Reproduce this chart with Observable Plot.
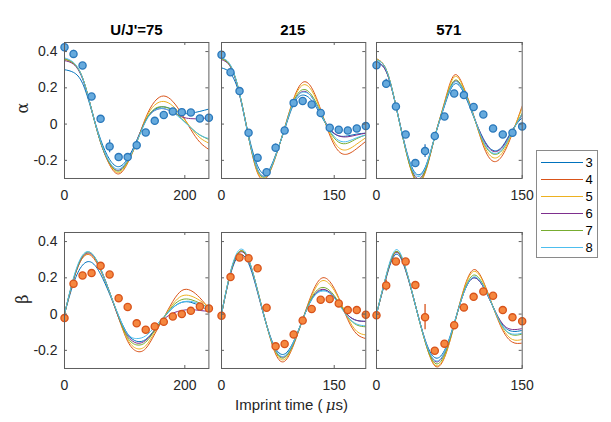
<!DOCTYPE html>
<html>
<head>
<meta charset="utf-8">
<script src="https://cdn.jsdelivr.net/npm/d3@7"></script>
<script src="https://cdn.jsdelivr.net/npm/@observablehq/plot@0.6"></script>
<style>
  html, body { margin: 0; padding: 0; background: #fff; }
  #fig { position: relative; width: 611px; height: 422px; overflow: hidden; background: #fff;
         font-family: "Liberation Sans", Arial, Helvetica, sans-serif; }
</style>
</head>
<body>
<div id="fig"></div>
<script>
// ---------- data ----------
const models = ["3", "4", "5", "6", "7", "8"];
const modelColors = ["#0072BD", "#D95319", "#EDB120", "#7E2F8E", "#77AC30", "#4DBEEE"];
const yTicks = [-0.2, 0, 0.2, 0.4];
const xTicks75 = [0, 200];
const xTicks215 = [0, 150];
const xTicks571 = [0, 150];
const titles = ["U/J'=75", "215", "571"];

const t75 = [0, 15, 30, 45, 60, 75, 90, 105, 120, 135, 150, 165, 180, 195, 210, 225, 240];
const t215 = [0, 12, 24, 36, 48, 60, 72, 84, 96, 108, 120, 132, 144, 156, 168, 180, 192];
const t571 = [0, 10, 20, 30, 40, 50, 60, 70, 80, 90, 100, 110, 120, 130, 140, 150];

// measured points
const alpha75 = [0.424, 0.387, 0.323, 0.152, 0.029, -0.123, -0.182, -0.182, -0.117, -0.046, 0.018, 0.05, 0.07, 0.066, 0.064, 0.031, 0.035];
const alpha75Err = [0.01, 0.02, 0.01, 0.01, 0.01, 0.035, 0.01, 0.01, 0.025, 0.01, 0.01, 0.01, 0.01, 0.01, 0.01, 0.01, 0.01];
const alpha215 = [0.383, 0.286, 0.182, -0.048, -0.185, -0.266, -0.13, -0.035, 0.117, 0.127, 0.108, 0.061, -0.02, -0.031, -0.035, -0.024, -0.011];
const alpha215Err = [0.01, 0.01, 0.01, 0.01, 0.01, 0.01, 0.02, 0.01, 0.01, 0.01, 0.01, 0.01, 0.01, 0.01, 0.01, 0.01, 0.01];
const alpha571 = [0.325, 0.222, 0.097, -0.057, -0.215, -0.149, -0.066, 0.042, 0.169, 0.16, 0.094, 0.053, -0.024, -0.057, -0.048, -0.013];
const alpha571Err = [0.01, 0.025, 0.01, 0.01, 0.01, 0.035, 0.01, 0.015, 0.01, 0.01, 0.01, 0.01, 0.01, 0.01, 0.01, 0.01];
const beta75 = [-0.022, 0.167, 0.213, 0.226, 0.266, 0.218, 0.088, 0.039, -0.051, -0.086, -0.068, -0.042, -0.013, 0.0, 0.018, 0.042, 0.031];
const beta75Err = [0.01, 0.01, 0.01, 0.01, 0.01, 0.01, 0.01, 0.01, 0.01, 0.01, 0.01, 0.01, 0.01, 0.01, 0.01, 0.01, 0.01];
const beta215 = [-0.009, 0.204, 0.312, 0.308, 0.253, 0.035, -0.178, -0.165, -0.112, -0.035, 0.028, 0.079, 0.083, 0.059, 0.022, 0.022, -0.004];
const beta215Err = [0.01, 0.01, 0.01, 0.01, 0.01, 0.01, 0.01, 0.01, 0.01, 0.01, 0.01, 0.01, 0.01, 0.01, 0.01, 0.01, 0.01];
const beta571 = [-0.006, 0.158, 0.29, 0.29, 0.16, -0.017, -0.202, -0.163, -0.061, 0.037, 0.095, 0.125, 0.101, 0.022, -0.018, -0.039];
const beta571Err = [0.01, 0.03, 0.01, 0.01, 0.01, 0.07, 0.01, 0.01, 0.01, 0.01, 0.01, 0.01, 0.01, 0.01, 0.01, 0.01];

// model curves
const a75_3 = [0.30, 0.285, 0.225, 0.075, -0.085, -0.195, -0.235, -0.19, -0.09, 0.02, 0.08, 0.095, 0.08, 0.06, 0.06, 0.07, 0.083];
const a75_4 = [0.36, 0.335, 0.255, 0.08, -0.1, -0.225, -0.275, -0.215, -0.1, 0.035, 0.125, 0.155, 0.125, 0.055, -0.03, -0.1, -0.14];
const a75_5 = [0.355, 0.335, 0.255, 0.08, -0.1, -0.22, -0.268, -0.21, -0.1, 0.03, 0.105, 0.125, 0.1, 0.045, -0.02, -0.075, -0.105];
const a75_6 = [0.35, 0.33, 0.25, 0.08, -0.1, -0.215, -0.255, -0.2, -0.095, 0.02, 0.075, 0.085, 0.065, 0.04, 0.03, 0.03, 0.035];
const a75_7 = [0.36, 0.335, 0.255, 0.08, -0.1, -0.215, -0.26, -0.205, -0.1, 0.02, 0.085, 0.095, 0.075, 0.03, -0.02, -0.06, -0.085];
const a75_8 = [0.365, 0.34, 0.255, 0.08, -0.095, -0.21, -0.248, -0.2, -0.1, 0.015, 0.075, 0.085, 0.065, 0.025, -0.02, -0.06, -0.08];

const a215_3 = [0.31, 0.28, 0.16, -0.06, -0.23, -0.27, -0.17, -0.03, 0.11, 0.16, 0.13, 0.05, -0.03, -0.065, -0.065, -0.055, -0.05];
const a215_4 = [0.365, 0.32, 0.17, -0.07, -0.27, -0.295, -0.18, -0.02, 0.14, 0.23, 0.2, 0.08, -0.06, -0.15, -0.165, -0.135, -0.095];
const a215_5 = [0.36, 0.32, 0.17, -0.07, -0.265, -0.29, -0.18, -0.02, 0.135, 0.215, 0.185, 0.075, -0.05, -0.13, -0.14, -0.11, -0.075];
const a215_6 = [0.355, 0.315, 0.165, -0.07, -0.25, -0.28, -0.175, -0.025, 0.12, 0.18, 0.15, 0.06, -0.025, -0.065, -0.07, -0.06, -0.05];
const a215_7 = [0.36, 0.32, 0.17, -0.07, -0.255, -0.285, -0.175, -0.025, 0.125, 0.19, 0.16, 0.065, -0.04, -0.1, -0.105, -0.08, -0.06];
const a215_8 = [0.365, 0.325, 0.17, -0.07, -0.25, -0.28, -0.175, -0.025, 0.12, 0.175, 0.15, 0.06, -0.035, -0.09, -0.095, -0.075, -0.06];

const a571_3 = [0.34, 0.29, 0.1, -0.13, -0.27, -0.24, -0.07, 0.1, 0.22, 0.17, 0.04, -0.08, -0.145, -0.12, -0.03, 0.035];
const a571_4 = [0.36, 0.3, 0.1, -0.14, -0.31, -0.27, -0.07, 0.12, 0.27, 0.2, 0.05, -0.12, -0.205, -0.17, -0.05, 0.1];
const a571_5 = [0.36, 0.3, 0.1, -0.14, -0.305, -0.265, -0.07, 0.115, 0.26, 0.195, 0.045, -0.11, -0.185, -0.155, -0.045, 0.09];
const a571_6 = [0.34, 0.29, 0.1, -0.135, -0.29, -0.255, -0.07, 0.105, 0.235, 0.18, 0.045, -0.085, -0.15, -0.125, -0.035, 0.05];
const a571_7 = [0.355, 0.3, 0.1, -0.14, -0.3, -0.26, -0.07, 0.11, 0.24, 0.185, 0.045, -0.1, -0.165, -0.14, -0.04, 0.06];
const a571_8 = [0.355, 0.3, 0.1, -0.135, -0.28, -0.245, -0.07, 0.105, 0.23, 0.18, 0.045, -0.095, -0.16, -0.135, -0.04, 0.055];

const b75_3 = [0, 0.17, 0.27, 0.285, 0.22, 0.11, -0.01, -0.11, -0.15, -0.14, -0.085, -0.02, 0.035, 0.065, 0.065, 0.045, 0.02];
const b75_4 = [0, 0.19, 0.31, 0.32, 0.24, 0.12, -0.02, -0.15, -0.205, -0.19, -0.11, -0.02, 0.07, 0.13, 0.13, 0.09, 0.03];
const b75_5 = [0, 0.19, 0.31, 0.325, 0.245, 0.12, -0.02, -0.14, -0.19, -0.175, -0.1, -0.02, 0.055, 0.1, 0.1, 0.075, 0.04];
const b75_6 = [0, 0.19, 0.315, 0.33, 0.25, 0.12, -0.02, -0.12, -0.16, -0.145, -0.09, -0.03, 0.005, 0.02, 0.025, 0.02, 0.015];
const b75_7 = [0, 0.195, 0.32, 0.335, 0.25, 0.12, -0.015, -0.13, -0.17, -0.155, -0.09, -0.02, 0.045, 0.08, 0.08, 0.06, 0.035];
const b75_8 = [0, 0.2, 0.325, 0.335, 0.25, 0.12, -0.01, -0.11, -0.135, -0.12, -0.07, -0.015, 0.035, 0.065, 0.07, 0.055, 0.035];

const b215_3 = [0, 0.22, 0.325, 0.28, 0.12, -0.06, -0.19, -0.22, -0.15, -0.03, 0.08, 0.13, 0.12, 0.06, -0.005, -0.035, -0.04];
const b215_4 = [0, 0.23, 0.345, 0.3, 0.13, -0.06, -0.22, -0.26, -0.17, -0.03, 0.11, 0.195, 0.18, 0.09, -0.03, -0.11, -0.135];
const b215_5 = [0, 0.23, 0.345, 0.3, 0.13, -0.06, -0.21, -0.25, -0.165, -0.03, 0.1, 0.18, 0.165, 0.085, -0.02, -0.095, -0.115];
const b215_6 = [0, 0.225, 0.34, 0.295, 0.125, -0.06, -0.2, -0.235, -0.16, -0.03, 0.085, 0.135, 0.12, 0.06, -0.005, -0.035, -0.04];
const b215_7 = [0, 0.23, 0.345, 0.3, 0.13, -0.06, -0.205, -0.24, -0.16, -0.03, 0.09, 0.145, 0.13, 0.065, -0.015, -0.06, -0.07];
const b215_8 = [0, 0.235, 0.355, 0.305, 0.13, -0.06, -0.2, -0.23, -0.155, -0.03, 0.08, 0.125, 0.115, 0.055, -0.015, -0.055, -0.065];

const b571_3 = [0, 0.2, 0.33, 0.24, 0.05, -0.14, -0.24, -0.2, -0.05, 0.12, 0.2, 0.15, 0.04, -0.06, -0.095, -0.09];
const b571_4 = [0, 0.21, 0.345, 0.25, 0.05, -0.15, -0.285, -0.24, -0.06, 0.14, 0.245, 0.18, 0.04, -0.09, -0.155, -0.16];
const b571_5 = [0, 0.21, 0.345, 0.25, 0.05, -0.15, -0.28, -0.235, -0.06, 0.135, 0.235, 0.175, 0.04, -0.08, -0.14, -0.14];
const b571_6 = [0, 0.205, 0.34, 0.245, 0.05, -0.145, -0.26, -0.215, -0.055, 0.12, 0.2, 0.15, 0.04, -0.055, -0.085, -0.08];
const b571_7 = [0, 0.21, 0.345, 0.25, 0.05, -0.15, -0.27, -0.225, -0.055, 0.125, 0.215, 0.16, 0.04, -0.07, -0.115, -0.11];
const b571_8 = [0, 0.215, 0.355, 0.255, 0.05, -0.145, -0.255, -0.21, -0.05, 0.12, 0.205, 0.155, 0.04, -0.07, -0.11, -0.105];

// ---------- drawing ----------
const fig = document.getElementById("fig");
const FONT = '"Liberation Sans", Arial, Helvetica, sans-serif';
const ML = 50, MR = 10, MT = 10, MB = 35;
const FRAME = "#5e5e5e";

function panel(cfg) {
  const {left, top, W, H, xMax, xTicks, showY, t, pts, err, curves, fill, edge} = cfg;
  const lineRows = [];
  curves.forEach((arr, i) => arr.forEach((v, j) => lineRows.push({t: t[j], v, m: models[i]})));
  const ptRows = pts.map((v, i) => ({t: t[i], v, lo: v - err[i], hi: v + err[i]}));
  const marks = [
    Plot.line(lineRows, {x: "t", y: "v", z: "m", stroke: "m", curve: "natural", clip: true, strokeWidth: 1}),
    Plot.ruleX(ptRows, {x: "t", y1: "lo", y2: "hi", stroke: edge, strokeWidth: 1.3}),
    Plot.dot(ptRows, {x: "t", y: "v", r: 3.6, fill: fill, stroke: edge, strokeWidth: 1.3}),
    Plot.frame({stroke: FRAME, strokeWidth: 1}),
    Plot.tickY(yTicks, {y: d => d, insetRight: W - 3, stroke: FRAME}),
    Plot.tickY(yTicks, {y: d => d, insetLeft: W - 3, stroke: FRAME}),
    Plot.tickX(xTicks, {x: d => d, insetTop: H - 3, stroke: FRAME}),
    Plot.tickX(xTicks, {x: d => d, insetBottom: H - 3, stroke: FRAME}),
    Plot.axisX(xTicks, {tickSize: 0, tickPadding: 12, tickFormat: d => String(d), label: null, fill: "#262626"})
  ];
  if (showY) marks.push(Plot.axisY(yTicks, {tickSize: 0, tickPadding: 7, tickFormat: d => String(d), label: null, fill: "#262626"}));
  const svg = Plot.plot({
    width: W + ML + MR, height: H + MT + MB,
    marginLeft: ML, marginRight: MR, marginTop: MT, marginBottom: MB,
    x: {domain: [0, xMax], label: null},
    y: {domain: [-0.3, 0.45], label: null, axis: showY ? undefined : null},
    color: {domain: models, range: modelColors},
    style: {fontFamily: FONT, fontSize: "14px", color: "#262626", background: "transparent", overflow: "visible"},
    marks
  });
  svg.style.position = "absolute";
  svg.style.left = (left - ML) + "px";
  svg.style.top = (top - MT) + "px";
  fig.append(svg);
}

const aFill = "#66aadd", aEdge = "#2a78bb";
const bFill = "#f5873f", bEdge = "#d8531a";
const rowTop = [41.7, 231.5], H = 136;

panel({left: 64.3, top: rowTop[0], W: 144.4, H, xMax: 240, xTicks: xTicks75, showY: true, t: t75,
  pts: alpha75, err: alpha75Err, curves: [a75_3, a75_4, a75_5, a75_6, a75_7, a75_8], fill: aFill, edge: aEdge});
panel({left: 220.7, top: rowTop[0], W: 144.3, H, xMax: 192, xTicks: xTicks215, showY: false, t: t215,
  pts: alpha215, err: alpha215Err, curves: [a215_3, a215_4, a215_5, a215_6, a215_7, a215_8], fill: aFill, edge: aEdge});
panel({left: 376, top: rowTop[0], W: 145.7, H, xMax: 150, xTicks: xTicks571, showY: false, t: t571,
  pts: alpha571, err: alpha571Err, curves: [a571_3, a571_4, a571_5, a571_6, a571_7, a571_8], fill: aFill, edge: aEdge});
panel({left: 64.3, top: rowTop[1], W: 144.4, H, xMax: 240, xTicks: xTicks75, showY: true, t: t75,
  pts: beta75, err: beta75Err, curves: [b75_3, b75_4, b75_5, b75_6, b75_7, b75_8], fill: bFill, edge: bEdge});
panel({left: 220.7, top: rowTop[1], W: 144.3, H, xMax: 192, xTicks: xTicks215, showY: false, t: t215,
  pts: beta215, err: beta215Err, curves: [b215_3, b215_4, b215_5, b215_6, b215_7, b215_8], fill: bFill, edge: bEdge});
panel({left: 376, top: rowTop[1], W: 145.7, H, xMax: 150, xTicks: xTicks571, showY: false, t: t571,
  pts: beta571, err: beta571Err, curves: [b571_3, b571_4, b571_5, b571_6, b571_7, b571_8], fill: bFill, edge: bEdge});

// ---------- overlay text & legend ----------
const NS = "http://www.w3.org/2000/svg";
const ov = document.createElementNS(NS, "svg");
ov.setAttribute("width", 611); ov.setAttribute("height", 422);
ov.style.position = "absolute"; ov.style.left = "0px"; ov.style.top = "0px";
ov.style.fontFamily = FONT;
fig.append(ov);
function txt(str, x, y, opts = {}) {
  const e = document.createElementNS(NS, "text");
  e.setAttribute("x", x); e.setAttribute("y", y);
  e.setAttribute("fill", opts.fill || "#000");
  e.setAttribute("font-size", opts.size || 14);
  e.setAttribute("text-anchor", opts.anchor || "middle");
  if (opts.weight) e.setAttribute("font-weight", opts.weight);
  if (opts.family) e.setAttribute("font-family", opts.family);
  if (opts.transform) e.setAttribute("transform", opts.transform);
  if (opts.html) e.innerHTML = str; else e.textContent = str;
  ov.append(e);
  return e;
}
const titleX = [136.5, 292.8, 448.8];
titles.forEach((s, i) => txt(s, titleX[i], 34.6, {size: 15, weight: "bold"}));
txt('Imprint time (<tspan font-family="DejaVu Serif, serif" font-style="italic" dx="3">μ</tspan>s)', 291.5, 409.5,
    {size: 15, fill: "#262626", html: true});
txt("α", 0, 0, {size: 16, family: "DejaVu Serif, serif", fill: "#262626", transform: "translate(28,108) rotate(-90)"});
txt("β", 0, 0, {size: 16, family: "DejaVu Serif, serif", fill: "#262626", transform: "translate(28,299) rotate(-90)"});

// legend
const lg = document.createElementNS(NS, "rect");
lg.setAttribute("x", 536.5); lg.setAttribute("y", 150.5); lg.setAttribute("width", 61); lg.setAttribute("height", 107);
lg.setAttribute("fill", "#fff"); lg.setAttribute("stroke", "#8a8a8a"); lg.setAttribute("stroke-width", 1);
ov.append(lg);
const legY = [162.5, 179.5, 196.5, 213.5, 230.5, 247.5];
models.forEach((m, i) => {
  const l = document.createElementNS(NS, "line");
  l.setAttribute("x1", 541); l.setAttribute("x2", 583);
  l.setAttribute("y1", legY[i]); l.setAttribute("y2", legY[i]);
  l.setAttribute("stroke", modelColors[i]); l.setAttribute("stroke-width", 1);
  ov.append(l);
  txt(m, 585.5, legY[i] + 4.6, {size: 13, anchor: "start", fill: "#000"});
});
</script>
</body>
</html>
